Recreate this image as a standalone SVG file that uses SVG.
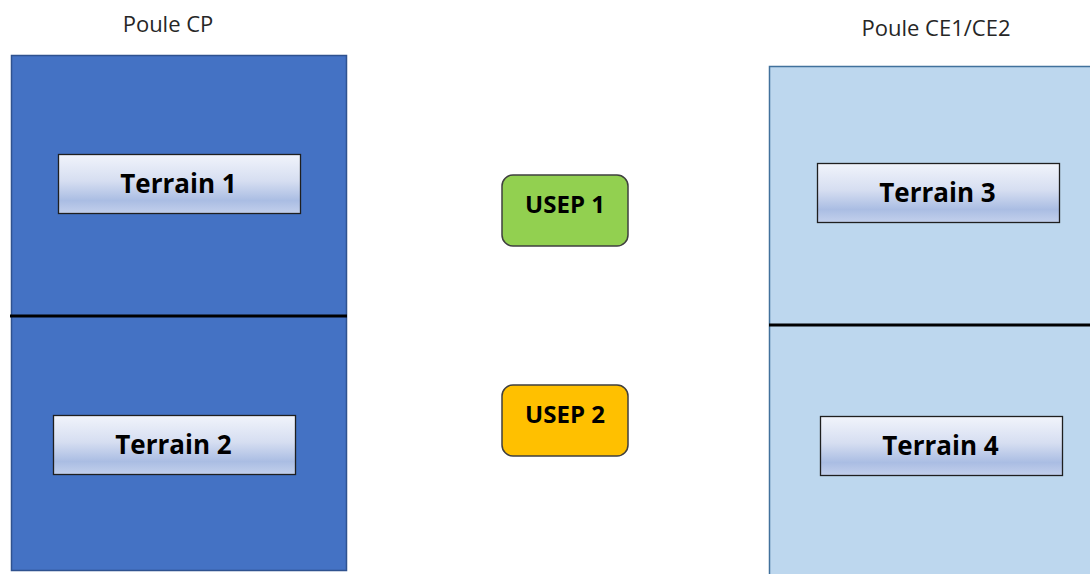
<svg xmlns="http://www.w3.org/2000/svg" width="1090" height="574" viewBox="0 0 1090 574">
<defs>
<linearGradient id="tg" x1="0" y1="0" x2="0" y2="1">
<stop offset="0" stop-color="#f1f4fb"/>
<stop offset="0.45" stop-color="#d6def1"/>
<stop offset="0.78" stop-color="#aabde3"/>
<stop offset="1" stop-color="#c3d0ec"/>
</linearGradient>
<style>
.title{font-family:"Open Sans","Liberation Sans",sans-serif;font-size:22px;fill:#262626;text-anchor:middle}
.terr rect{fill:url(#tg);stroke:#1f1f1f;stroke-width:1.3}
.terr text{font-family:"Open Sans","Liberation Sans",sans-serif;font-weight:bold;font-size:26px;fill:#000;text-anchor:middle}
.usep rect{stroke:#3f3f3f;stroke-width:1.5}
.usep text{font-family:"Open Sans","Liberation Sans",sans-serif;font-weight:bold;font-size:24px;fill:#000;text-anchor:middle}
.div{stroke:#000;stroke-width:3}
</style>
</defs>
<rect width="1090" height="574" fill="#fff"/>
<g id="poule-cp">
<text class="title" x="168" y="32">Poule CP</text>
<rect x="11.5" y="55.5" width="335" height="515" fill="#4472c4" stroke="#2f528f" stroke-width="1.5"/>
</g>
<g id="poule-ce">
<text class="title" x="936" y="36">Poule CE1/CE2</text>
<rect x="769.5" y="66.5" width="330" height="520" fill="#bdd7ee" stroke="#41719c" stroke-width="1.5"/>
</g>
<g id="connectors">
<line class="div" x1="10" y1="316" x2="347" y2="316"/>
<line class="div" x1="769" y1="325" x2="1090" y2="325"/>
</g>
<g id="terrain1" class="terr"><rect x="58.5" y="154.5" width="242" height="59"/><text x="178.5" y="193">Terrain 1</text></g>
<g id="terrain2" class="terr"><rect x="53.5" y="415.5" width="242" height="59"/><text x="173.5" y="454">Terrain 2</text></g>
<g id="terrain3" class="terr"><rect x="817.5" y="163.5" width="242" height="59"/><text x="937.5" y="202">Terrain 3</text></g>
<g id="terrain4" class="terr"><rect x="820.5" y="416.5" width="242" height="59"/><text x="940.5" y="455">Terrain 4</text></g>
<g id="usep1" class="usep"><rect x="502" y="175" width="126" height="71" rx="11" fill="#92d050"/><text x="565" y="213">USEP 1</text></g>
<g id="usep2" class="usep"><rect x="502" y="385" width="126" height="71" rx="11" fill="#ffc000"/><text x="565" y="423">USEP 2</text></g>
</svg>
